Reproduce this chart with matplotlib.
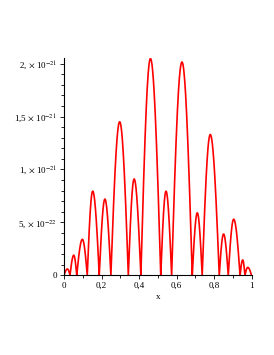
import matplotlib
matplotlib.use("Agg")
import matplotlib.pyplot as plt
import numpy as np

# zeros of the curve, peak positions and peak heights (units of 1e-21)
zeros = [0.0, 0.032, 0.068, 0.124, 0.188, 0.25, 0.343, 0.41, 0.516, 0.574,
         0.684, 0.737, 0.828, 0.876, 0.939, 0.965, 1.0]
peak_x = [0.018, 0.052, 0.098, 0.153, 0.218, 0.297, 0.374, 0.461, 0.544,
          0.629, 0.711, 0.78, 0.851, 0.905, 0.953, 0.98]
peak_h = [0.06, 0.19, 0.34, 0.795, 0.72, 1.45, 0.91, 2.047, 0.795, 2.015,
          0.59, 1.33, 0.39, 0.53, 0.145, 0.075]

yticks = [0, 0.5e-21, 1.0e-21, 1.5e-21, 2.0e-21]
ytick_labels = ["0", r"5, $\times$ 10$^{-22}$", r"1, $\times$ 10$^{-21}$",
                r"1,5 $\times$ 10$^{-21}$", r"2, $\times$ 10$^{-21}$"]
xticks = [0, 0.2, 0.4, 0.6, 0.8, 1.0]
xtick_labels = ["0", "0,2", "0,4", "0,6", "0,8", "1"]

plt.rcParams['font.family'] = ['Liberation Serif', 'DejaVu Serif']
plt.rcParams['mathtext.fontset'] = 'stix'

fig = plt.figure(figsize=(2.74, 3.55), dpi=100)
ax = fig.add_axes([0.2336, 0.2245, 0.6843, 0.6113])

# build each arch between two zeros
xs, ys = [], []
for i in range(len(peak_h)):
    a, b, p, h = zeros[i], zeros[i + 1], peak_x[i], peak_h[i] * 1e-21
    left = np.linspace(a, p, 40)
    right = np.linspace(p, b, 40)
    xs += list(left) + list(right)
    ys += list(h * np.sin(np.pi / 2 * (left - a) / (p - a)))
    ys += list(h * np.cos(np.pi / 2 * (right - p) / (b - p)))

ax.plot(xs, ys, color='#ff0000', linewidth=1.2)

ax.set_xlim(0, 1)
ax.set_ylim(0, 2.05e-21)
ax.spines['top'].set_visible(False)
ax.spines['right'].set_visible(False)
ax.spines['left'].set_linewidth(0.8)
ax.spines['bottom'].set_linewidth(0.8)

ax.set_xticks(xticks)
ax.set_xticklabels(xtick_labels)
ax.set_xticks(np.arange(0.1, 1.0, 0.2), minor=True)
ax.set_yticks(yticks)
ax.set_yticklabels(ytick_labels)
ax.set_yticks(np.arange(0.1e-21, 2.05e-21, 0.1e-21), minor=True)
ax.tick_params(axis='both', which='major', length=3, width=0.6, labelsize=6.5, pad=2)
ax.tick_params(axis='both', which='minor', length=2, width=0.6)

ax.set_xlabel("x", fontsize=6.5, labelpad=2)

fig.savefig("out.png", dpi=100)
